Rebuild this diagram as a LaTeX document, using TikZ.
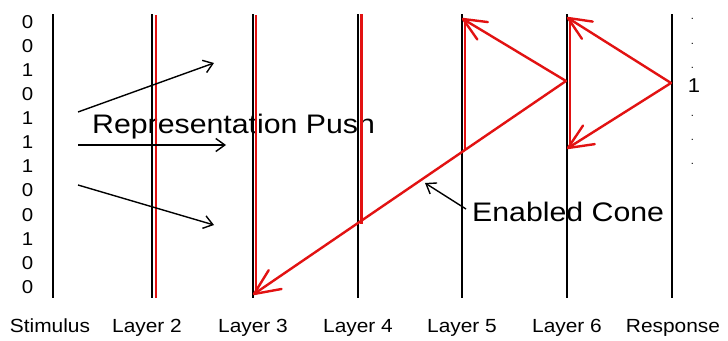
\documentclass[tikz,border=0pt]{standalone}
\usepackage{fontspec}
\setmainfont{Liberation Sans}
\newfontfamily\widefont[FakeStretch=1.1]{Liberation Sans}
\newfontfamily\widerfont[FakeStretch=1.13]{Liberation Sans}
\usetikzlibrary{arrows.meta,calc}
\definecolor{myred}{RGB}{226,18,18}
\begin{document}
\begin{tikzpicture}[x=1pt,y=-1pt,
  layerline/.style={line width=2.6pt,black},
  redline/.style={line width=2.4pt,myred},
  barb/.style={line width=2.4pt,myred,line cap=round,line join=round},
  pusharrow/.style={line width=1.4pt,black,-{Straight Barb[length=9pt,width=13pt]}},
  bigtext/.style={font=\widerfont\fontsize{26.8}{30}\selectfont,inner sep=0pt,anchor=base west},
  labeltext/.style={font=\widefont\fontsize{19}{22}\selectfont,inner sep=0pt,anchor=base},
  bittext/.style={font=\widefont\fontsize{18.6}{22}\selectfont,inner sep=0pt,anchor=base},
  dottext/.style={font=\fontsize{11}{12}\selectfont,inner sep=0pt,anchor=base}]
\useasboundingbox (0,0) rectangle (728,340);
\fill[white] (0,0) rectangle (728,340);

% texts
\node[bigtext] (push) at (92,133) {Representation Push};
\node[bigtext] (cone) at (472,221) {Enabled Cone};

\node[labeltext] (lS) at (50,332) {Stimulus};
\node[labeltext] (l2) at (147,332) {Layer 2};
\node[labeltext] (l3) at (253,332) {Layer 3};
\node[labeltext] (l4) at (358,332) {Layer 4};
\node[labeltext] (l5) at (462,332) {Layer 5};
\node[labeltext] (l6) at (567,332) {Layer 6};
\node[labeltext] (lR) at (673,332) {Response};

\foreach \b [count=\i from 0] in {0,0,1,0,1,1,1,0,0,1,0,0}
  \node[bittext] (bit\i) at (27.5,{28.3+24.09*\i}) {\b};

\node[font=\widefont\fontsize{20}{22}\selectfont,inner sep=0pt,anchor=base] (r1) at (694,92) {1};
\foreach \y [count=\i] in {18,43,67,115,139,163}
  \node[dottext] (rd\i) at (692.5,{\y+1.5}) {.};

% layer lines
\coordinate (S-t) at (53,14);  \coordinate (S-b) at (53,298);
\coordinate (L2-t) at (152,14); \coordinate (L2-b) at (152,298);
\coordinate (L3-t) at (253,14); \coordinate (L3-b) at (253,298);
\coordinate (L4-t) at (358,14); \coordinate (L4-b) at (358,298);
\coordinate (L5-t) at (462,14); \coordinate (L5-b) at (462,298);
\coordinate (L6-t) at (567,14); \coordinate (L6-b) at (567,298);
\coordinate (R-t) at (672,14);  \coordinate (R-b) at (672,298);
\foreach \n in {S,L2,L3,L4,L5,L6,R}
  \draw[layerline] (\n-t) -- (\n-b);

% red lines on layers
\coordinate (r2t) at (156,15);   \coordinate (r2b) at (156,298);
\coordinate (r3t) at (256,15);   \coordinate (r3b) at (256,291);
\coordinate (r4t) at (361.5,14); \coordinate (r4b) at (361.5,224);
\coordinate (r5t) at (465,20);   \coordinate (r5b) at (465,151);
\coordinate (r6t) at (570,20);   \coordinate (r6b) at (570,146);
\foreach \n in {2,3,4,5,6}
  \draw[redline] (r\n t) -- (r\n b);

% cone arrows
\coordinate (P6) at (566,81);
\coordinate (P3) at (254,294);
\coordinate (P5top) at (463,19);
\coordinate (PR) at (671,83);
\coordinate (P6top) at (568,18);
\coordinate (P6low) at (568,148);
\draw[barb] (P6) -- (P3);
\draw[barb] (P6) -- (P5top);
\draw[barb] (PR) -- (P6top);
\draw[barb] (PR) -- (P6low);
% arrowheads (open V barbs)
\draw[barb] ($(P3)!28pt!24:(P6)$) -- (P3) -- ($(P3)!28pt!-24:(P6)$);
\draw[barb] ($(P5top)!25pt!24:(P6)$) -- (P5top) -- ($(P5top)!25pt!-24:(P6)$);
\draw[barb] ($(P6top)!25pt!24:(PR)$) -- (P6top) -- ($(P6top)!25pt!-24:(PR)$);
\draw[barb] ($(P6low)!27pt!24:(PR)$) -- (P6low) -- ($(P6low)!27pt!-24:(PR)$);

% push arrows
\coordinate (a1s) at (78,112); \coordinate (a1e) at (214,63);
\coordinate (a2s) at (78,145); \coordinate (a2e) at (226,145);
\coordinate (a3s) at (78,185); \coordinate (a3e) at (214,225);
\draw[pusharrow] (a1s) -- (a1e);
\draw[pusharrow] (a2s) -- (a2e);
\draw[pusharrow] (a3s) -- (a3e);

% cone pointer
\coordinate (cs) at (466,209);
\coordinate (cp) at (425,183);
\draw[pusharrow] (cs) -- (cp);
\end{tikzpicture}
\end{document}
